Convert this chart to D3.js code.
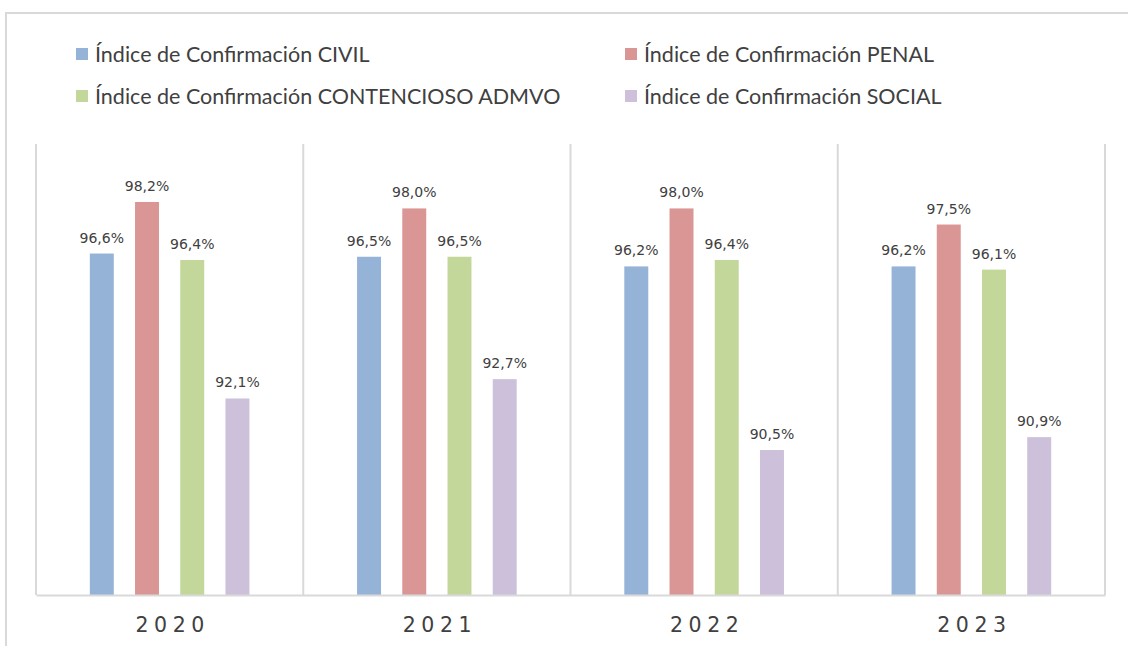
<!DOCTYPE html>
<html>
<head>
<meta charset="utf-8">
<script src="https://cdn.jsdelivr.net/npm/d3@7"></script>
<style>
    body { margin: 0; background: #fff; }
    svg { display: block; }
</style>
</head>
<body>
<div id="chart"></div>
<script>
// Values
let years = ["2020", "2021", "2022", "2023"];
let seriesNames = [
    "Índice de Confirmación CIVIL",
    "Índice de Confirmación PENAL",
    "Índice de Confirmación CONTENCIOSO ADMVO",
    "Índice de Confirmación SOCIAL"
];
let civil = [96.6, 96.5, 96.2, 96.2];
let penal = [98.2, 98.0, 98.0, 97.5];
let contencioso = [96.4, 96.5, 96.4, 96.1];
let social = [92.1, 92.7, 90.5, 90.9];
let colors = ["#95b3d7", "#da9694", "#c4d79b", "#ccc0da"];

let allSeries = [civil, penal, contencioso, social];

let width = 1128, height = 646;
let svg = d3.select("#chart").append("svg").attr("width", width).attr("height", height);

// Outer chart frame (cropped at right and bottom)
svg.append("rect")
    .attr("x", 6).attr("y", 13)
    .attr("width", width + 10).attr("height", height + 10)
    .attr("fill", "#fff").attr("stroke", "#d9d9d9").attr("stroke-width", 2);

// Scales
let x0 = d3.scaleBand().domain(years).range([36, 1105]);
let x1 = d3.scaleBand().domain(seriesNames).range([0, x0.bandwidth()])
    .paddingInner(0.47).paddingOuter(1.19);
let y = d3.scaleLinear().domain([86, 100]).range([595, 144]);

// Vertical gridlines at category boundaries
let bounds = years.map(d => x0(d)).concat([x0(years[years.length - 1]) + x0.bandwidth()]);
svg.append("g").selectAll("line").data(bounds).join("line")
    .attr("x1", d => d).attr("x2", d => d)
    .attr("y1", y(100)).attr("y2", y(86))
    .attr("stroke", "#d9d9d9").attr("stroke-width", 2);

// Bars
let groups = svg.append("g").selectAll("g").data(years).join("g")
    .attr("transform", d => "translate(" + x0(d) + ",0)");

groups.selectAll("rect")
    .data((d, i) => seriesNames.map((s, j) => ({ name: s, value: allSeries[j][i], color: colors[j] })))
    .join("rect")
    .attr("x", d => x1(d.name))
    .attr("width", x1.bandwidth())
    .attr("y", d => y(d.value))
    .attr("height", d => y(86) - y(d.value))
    .attr("fill", d => d.color);

// Data labels
groups.selectAll("text")
    .data((d, i) => seriesNames.map((s, j) => ({ name: s, value: allSeries[j][i] })))
    .join("text")
    .attr("x", d => x1(d.name) + x1.bandwidth() / 2)
    .attr("y", d => y(d.value) - 11)
    .attr("text-anchor", "middle")
    .style("font-family", "'DejaVu Sans', sans-serif")
    .style("font-size", "14px")
    .style("fill", "#404040")
    .text(d => d.value.toFixed(1).replace(".", ",") + "%");

// Baseline axis
let xAxis = d3.axisBottom(x0).tickSize(0).tickPadding(0);
let axisG = svg.append("g").attr("transform", "translate(0," + y(86) + ")").call(xAxis);
axisG.select(".domain").attr("stroke", "#d9d9d9").attr("stroke-width", 2);
axisG.selectAll("text")
    .attr("y", 37)
    .attr("dy", null)
    .attr("dx", 3)
    .style("font-family", "'DejaVu Sans', sans-serif")
    .style("font-size", "20.5px")
    .style("letter-spacing", "5.5px")
    .style("fill", "#404040");

// Legend
let legendPos = [[76, 54], [625, 54], [76, 96], [625, 96]];
let legend = svg.append("g").selectAll("g").data(seriesNames).join("g")
    .attr("transform", (d, i) => "translate(" + legendPos[i][0] + "," + legendPos[i][1] + ")");
legend.append("rect")
    .attr("x", 0).attr("y", -6).attr("width", 12).attr("height", 12)
    .attr("fill", (d, i) => colors[i]);
legend.append("text")
    .attr("x", 19).attr("y", 0).attr("dy", "0.35em")
    .style("font-family", "Lato, sans-serif")
    .style("font-size", "21.5px")
    .style("fill", "#404040")
    .text(d => d);
</script>
</body>
</html>
